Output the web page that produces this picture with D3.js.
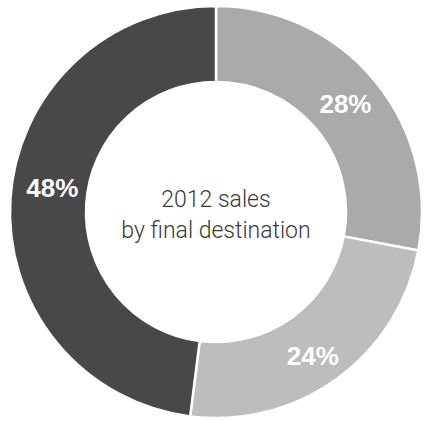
<!DOCTYPE html>
<html>
<head>
<meta charset="utf-8">
<script src="https://cdn.jsdelivr.net/npm/d3@7/dist/d3.min.js"></script>
<style>
  html, body { margin: 0; padding: 0; background: #fff; }
  svg { display: block; }
</style>
</head>
<body>
<svg id="chart" width="424" height="421"></svg>
<script>
// Sales share by final destination, 2012 (clockwise from 12 o'clock)
const segments = ["A", "B", "C"];
const shares = [28, 24, 48];
const shareLabels = ["28%", "24%", "48%"];
const centerLines = ["2012 sales", "by final destination"];

const fills = ["#aaaaaa", "#bdbdbd", "#484848"];

const width = 424, height = 421;
const cx = 216, cy = 212;
const outerR = 206, innerR = 130;

const svg = d3.select("#chart");
const g = svg.append("g").attr("transform", `translate(${cx},${cy})`);

const pie = d3.pie().sort(null).value(d => d.value);
const arcs = pie(segments.map((s, i) => ({ key: s, value: shares[i], label: shareLabels[i] })));

const arc = d3.arc().innerRadius(innerR).outerRadius(outerR);

g.selectAll("path.slice")
  .data(arcs)
  .join("path")
  .attr("class", "slice")
  .attr("d", arc)
  .attr("fill", (d, i) => fills[i])
  .attr("stroke", "#fff")
  .attr("stroke-width", 2.5);

// label nudges (dx, dy) relative to the slice centroid
const nudges = [[0, -1], [-2, 8], [4, -14]];

g.selectAll("text.pct")
  .data(arcs)
  .join("text")
  .attr("class", "pct")
  .attr("transform", (d, i) => {
    const [x, y] = arc.centroid(d);
    return `translate(${x + nudges[i][0]},${y + nudges[i][1]})`;
  })
  .attr("text-anchor", "middle")
  .attr("dy", "0.36em")
  .style("font-family", "'Liberation Sans', Arial, sans-serif")
  .style("font-weight", "bold")
  .style("font-size", "26px")
  .style("fill", "#fff")
  .text(d => d.data.label);

g.selectAll("text.center")
  .data(centerLines)
  .join("text")
  .attr("class", "center")
  .attr("x", 0)
  .attr("y", (d, i) => -13 + i * 31)
  .attr("text-anchor", "middle")
  .attr("dy", "0.36em")
  .style("font-family", "Roboto, 'Liberation Sans', sans-serif")
  .style("font-weight", 300)
  .style("font-size", "23px")
  .style("fill", "#3a3a3a")
  .text(d => d);
</script>
</body>
</html>
